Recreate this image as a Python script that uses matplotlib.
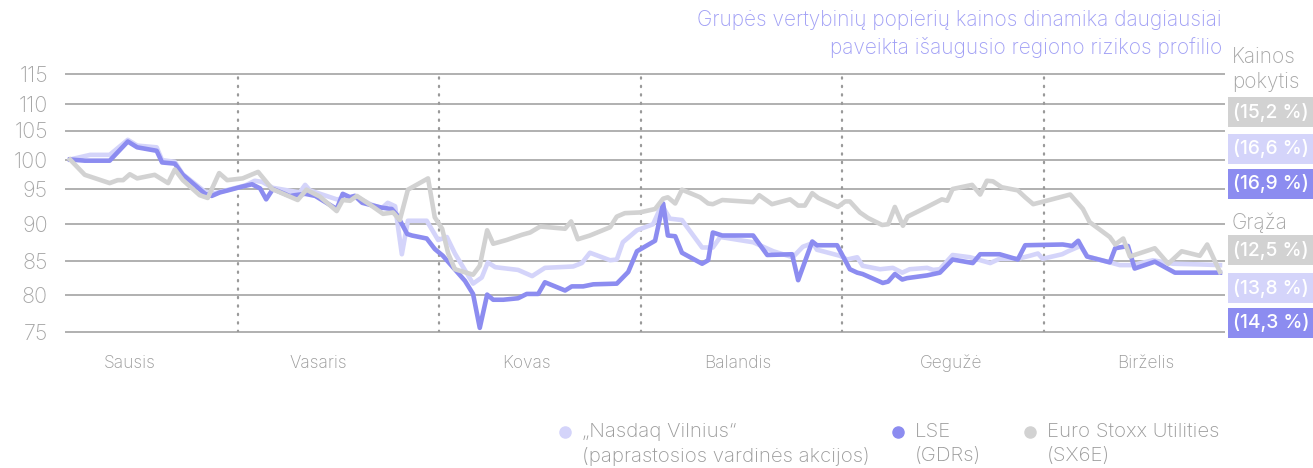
import numpy as np
import matplotlib.pyplot as plt
from matplotlib.lines import Line2D

plt.rcParams['font.family'] = ['Inter', 'DejaVu Sans']

# x is a "chart day": every month is drawn 30 days wide (Jan = 0..30, Feb = 30..60, ...)
months = ["Sausis", "Vasaris", "Kovas", "Balandis", "Gegužė", "Birželis"]
month_label_day = [13.9, 41.9, 73.0, 104.4, 136.2, 165.2]
month_edges = [30, 60, 90, 120, 150]
yticks = [75, 80, 85, 90, 95, 100, 105, 110, 115]

nasdaq_day = [5.0, 8.0, 10.9, 13.6, 15.0, 17.9, 18.7, 20.6, 21.8, 25.1, 26.6, 31.1, 32.5, 33.6, 35.2,
              39.2, 40.0, 40.7, 44.7, 46.2, 47.4, 49.7, 51.4, 52.3, 53.4, 54.4, 55.3, 58.1, 59.8, 61.1,
              62.3, 65.0, 66.3, 67.2, 68.3, 71.7, 73.8, 75.7, 79.9, 81.2, 82.4, 85.4, 86.4, 87.3, 89.4,
              91.8, 93.1, 94.3, 96.1, 99.1, 100.7, 101.8, 106.7, 109.7, 112.6, 114.1, 115.6, 116.2,
              119.6, 120.7, 122.2, 123.0, 125.6, 127.5, 128.9, 130.0, 132.6, 133.5, 134.5, 136.4, 139.0,
              142.0, 143.4, 146.1, 147.9, 149.1, 149.8, 152.7, 153.6, 155.4, 156.5, 159.8, 161.3, 163.2,
              166.2, 169.2, 173.2, 176.2]
nasdaq_val = [100.0, 100.8, 100.8, 103.4, 102.4, 102.1, 99.9, 99.6, 97.5, 94.6, 94.4, 95.6, 96.4, 96.2, 95.2,
              94.5, 95.7, 94.8, 93.5, 93.7, 94.0, 92.8, 92.2, 93.0, 92.5, 85.9, 90.4, 90.4, 87.8, 88.2,
              86.0, 81.7, 82.6, 84.8, 84.1, 83.7, 82.8, 84.0, 84.2, 84.7, 86.1, 85.1, 85.2, 87.5, 89.1,
              89.9, 92.7, 90.7, 90.5, 86.8, 86.8, 88.2, 87.5, 86.3, 85.5, 86.9, 87.4, 86.5,
              85.7, 85.2, 85.5, 84.3, 83.8, 84.0, 83.3, 83.8, 84.0, 83.7, 83.8, 85.8, 85.5,
              84.7, 85.3, 85.3, 85.7, 86.0, 85.3, 85.9, 86.3, 87.0, 85.6, 84.8, 84.4, 84.4,
              85.1, 84.6, 84.5, 84.4]

lse_day = [5.0, 7.2, 10.9, 13.6, 15.0, 17.9, 18.7, 20.6, 21.8, 25.1, 26.1, 27.3, 28.5, 30.6, 32.1, 33.3,
           34.2, 35.2, 37.7, 40.0, 41.5, 44.7, 45.6, 46.7, 47.4, 48.5, 49.7, 51.4, 52.9, 53.7, 55.2,
           55.9, 58.1, 59.3, 60.5, 62.0, 63.8, 65.0, 66.0, 67.1, 68.0, 69.5, 71.7, 73.0, 74.7, 75.7,
           78.7, 79.7, 81.4, 82.9, 86.4, 88.1, 89.4, 92.1, 93.3, 94.0, 95.1, 96.1, 99.1, 100.0, 100.7,
           102.1, 106.7, 108.8, 112.5, 113.4, 115.5, 116.2, 119.2, 121.1, 122.2, 123.0, 126.0, 126.8,
           127.8, 128.9, 129.6, 132.6, 134.5, 136.4, 139.4, 140.5, 143.4, 146.1, 147.2, 152.8, 154.2,
           155.1, 156.4, 159.8, 160.6, 162.5, 163.5, 166.5, 169.5, 176.2]
lse_val = [100.0, 99.8, 99.8, 103.1, 102.1, 101.5, 99.5, 99.3, 97.4, 94.3, 94.0, 94.5, 94.8, 95.4, 95.8, 95.1,
           93.5, 95.0, 94.0, 94.3, 94.0, 92.1, 94.3, 93.8, 94.0, 93.0, 92.7, 92.3, 92.1, 91.2, 88.6,
           88.4, 88.0, 86.6, 85.7, 84.1, 82.1, 80.2, 75.6, 80.1, 79.4, 79.4, 79.6, 80.2, 80.2, 81.9,
           80.7, 81.3, 81.3, 81.6, 81.7, 83.4, 86.3, 87.7, 92.9, 88.4, 88.3, 86.1, 84.6, 85.1, 88.8,
           88.4, 88.4, 85.8, 85.9, 82.2, 87.6, 87.1, 87.1, 83.8, 83.3, 83.1, 81.8, 82.0,
           83.1, 82.3, 82.5, 82.9, 83.3, 85.2, 84.7, 85.9, 85.9, 85.2, 87.1, 87.2, 87.0,
           87.7, 85.6, 84.8, 86.7, 87.0, 83.9, 84.9, 83.3, 83.3]

sx6e_day = [5.0, 7.2, 10.9, 12.1, 12.9, 13.9, 15.0, 17.6, 19.6, 20.6, 21.8, 24.3, 25.5, 27.2, 28.4, 30.7,
            33.0, 35.1, 38.9, 40.2, 42.2, 44.7, 45.6, 46.7, 47.7, 49.7, 51.6, 53.1, 54.1, 55.3, 58.3,
            59.3, 60.4, 61.3, 62.3, 65.0, 66.0, 67.1, 68.0, 70.0, 72.3, 73.5, 75.0, 78.7, 79.6, 80.6,
            82.4, 85.4, 86.4, 87.6, 89.8, 92.1, 93.3, 94.0, 95.1, 96.1, 98.8, 100.0, 100.7, 102.1, 106.7,
            107.6, 109.5, 112.2, 113.4, 114.4, 115.5, 116.4, 119.3, 120.4, 121.1, 122.6, 123.8, 125.9,
            126.8, 127.8, 129.0, 129.7, 132.6, 134.8, 135.6, 136.4, 139.3, 140.5, 141.5, 142.4, 143.7,
            146.1, 147.2, 148.4, 150.4, 153.9, 155.8, 156.8, 159.8, 160.6, 161.8, 162.8, 166.5, 168.5,
            170.5, 173.2, 174.3, 176.2]
sx6e_val = [100.0, 97.4, 96.0, 96.5, 96.5, 97.5, 96.8, 97.4, 96.0, 98.3, 96.5, 94.1, 93.7, 97.7, 96.5, 96.8,
            97.9, 95.0, 93.4, 94.9, 93.9, 91.8, 93.4, 93.3, 94.0, 92.7, 91.4, 91.6, 90.5, 94.9, 96.8,
            90.9, 89.3, 86.0, 83.8, 83.0, 84.3, 89.1, 87.3, 87.8, 88.5, 88.8, 89.6, 89.3, 90.3, 87.9,
            88.4, 89.5, 91.0, 91.5, 91.6, 92.1, 93.6, 93.8, 92.9, 94.9, 93.8, 92.9, 92.8, 93.4, 93.1,
            94.1, 92.8, 93.5, 92.6, 92.6, 94.4, 93.7, 92.4, 93.2, 93.2, 91.6, 90.8, 89.8,
            89.9, 92.4, 89.7, 91.0, 92.4, 93.5, 93.3, 95.0, 95.7, 94.2, 96.4, 96.3, 95.3,
            94.8, 93.8, 92.8, 93.3, 94.2, 92.1, 90.2, 88.2, 87.2, 88.0, 85.6, 86.7, 84.6,
            86.3, 85.7, 87.2, 83.4]

price_change = ["(15,2 %)", "(16,6 %)", "(16,9 %)"]
total_return = ["(12,5 %)", "(13,8 %)", "(14,3 %)"]

c_light = '#D4D4FA'
c_dark = '#8C8CF0'
c_gray = '#D2D2D2'
c_text = '#A6A6A6'

# the chart's gridlines are not evenly spaced, keep that look with a piecewise scale
grid_pos = [0, 37, 71.3, 108.8, 143.3, 172.8, 201.8, 228.3, 258.8]

def fwd(v):
    return np.interp(v, yticks, grid_pos)

def inv(p):
    return np.interp(p, grid_pos, yticks)

W, H = 1313, 468
fig = plt.figure(figsize=(W / 100, H / 100), dpi=100)
ax = fig.add_axes([66 / W, 1 - 332.3 / H, (1224 - 66) / W, (332.3 - 73.5) / H])
ax.set_yscale('function', functions=(fwd, inv))
ax.set_ylim(75, 115)
ax.set_xlim(4.4, 176.8)

for v in yticks:
    ax.axhline(v, color='#B0B0B0', lw=1.4, clip_on=False, zorder=1)
for d in month_edges:
    ax.axvline(d, color='#9A9A9A', lw=1.6, linestyle=(0, (0.6, 3.2)),
               dash_capstyle='round', zorder=1)

ax.plot(nasdaq_day, nasdaq_val, color=c_light, lw=3.3, clip_on=False, zorder=2)
ax.plot(lse_day, lse_val, color=c_dark, lw=3.3, clip_on=False, zorder=3)
ax.plot(sx6e_day, sx6e_val, color=c_gray, lw=3.3, clip_on=False, zorder=4)

for s in ax.spines.values():
    s.set_visible(False)
ax.set_yticks(yticks)
ax.set_yticklabels([str(v) for v in yticks])
ax.yaxis.set_minor_locator(plt.NullLocator())
ax.set_xticks(month_label_day)
ax.set_xticklabels(months)
ax.tick_params(axis='y', length=0, pad=13, labelsize=15.5, labelcolor=c_text)
ax.tick_params(axis='x', length=0, pad=16, labelsize=12.5, labelcolor='#9A9A9A')
for t in ax.get_xticklabels() + ax.get_yticklabels():
    t.set_fontweight('light')

# title
title_col = '#A09FF5'
fig.text(1222 / W, 1 - 20 / H, "Grupės vertybinių popierių kainos dinamika daugiausiai",
         ha='right', va='center', fontsize=15, color=title_col, fontweight='light')
fig.text(1222 / W, 1 - 47 / H, "paveikta išaugusio regiono rizikos profilio",
         ha='right', va='center', fontsize=15, color=title_col, fontweight='light')

# right side labels
fig.text(1232 / W, 1 - 57 / H, "Kainos", ha='left', va='center', fontsize=15,
         color=c_text, fontweight='light')
fig.text(1232 / W, 1 - 82 / H, "pokytis", ha='left', va='center', fontsize=15,
         color=c_text, fontweight='light')
fig.text(1232 / W, 1 - 223 / H, "Grąža", ha='left', va='center', fontsize=15,
         color=c_text, fontweight='light')
box_cols = [c_gray, c_light, c_dark]
for lab, col, yy in zip(price_change, box_cols, [112, 149, 184]):
    fig.text(1233 / W, 1 - yy / H, lab, ha='left', va='center', fontsize=13.8, color='white',
             fontweight='medium', bbox=dict(boxstyle='square,pad=0.27', fc=col, ec='none'))
for lab, col, yy in zip(total_return, box_cols, [250, 288, 323]):
    fig.text(1233 / W, 1 - yy / H, lab, ha='left', va='center', fontsize=13.8, color='white',
             fontweight='medium', bbox=dict(boxstyle='square,pad=0.27', fc=col, ec='none'))

# legend
leg = [(565, c_light, "„Nasdaq Vilnius“", "(paprastosios vardinės akcijos)"),
       (898, c_dark, "LSE", "(GDRs)"),
       (1030, c_gray, "Euro Stoxx Utilities", "(SX6E)")]
for xx, col, l1, l2 in leg:
    fig.add_artist(Line2D([xx / W], [1 - 432 / H], marker='o', markersize=8, color=col,
                          linestyle='none', transform=fig.transFigure))
    fig.text((xx + 17) / W, 1 - 432 / H, l1, ha='left', va='center', fontsize=14.7,
             color='#9A9A9A', fontweight='light')
    fig.text((xx + 17) / W, 1 - 456 / H, l2, ha='left', va='center', fontsize=14.7,
             color='#9A9A9A', fontweight='light')

fig.savefig('out.png', dpi=100)
